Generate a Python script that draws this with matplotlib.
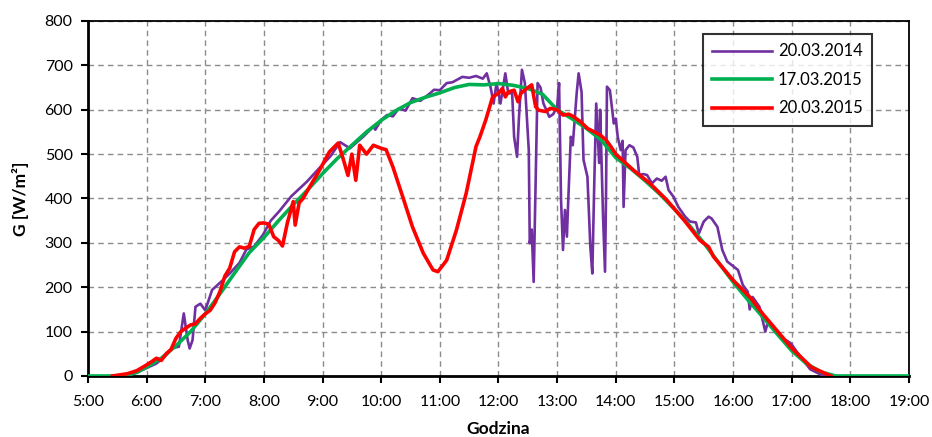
import numpy as np
import matplotlib
matplotlib.use("Agg")
import matplotlib.pyplot as plt

plt.rcParams['font.family'] = ['Lato', 'DejaVu Sans']

# 17.03.2015 - clear day (green)
t_1703 = ["5:00", "5:30", "5:40", "5:50", "6:00", "6:15", "6:30", "6:45", "7:00", "7:15",
          "7:30", "7:45", "8:00", "8:15", "8:30", "8:45", "9:00", "9:15", "9:30", "9:45",
          "10:00", "10:15", "10:30", "10:45", "11:00", "11:15", "11:30", "11:45", "12:00",
          "12:15", "12:30", "12:45", "13:00", "13:15", "13:30", "13:45", "14:00", "14:15",
          "14:30", "14:45", "15:00", "15:15", "15:30", "15:45", "16:00", "16:15", "16:30",
          "16:45", "17:00", "17:15", "17:30", "17:45", "19:00"]
g_1703 = [0, 0, 2, 8, 20, 40, 68, 100, 140, 185,
          232, 278, 312, 350, 386, 420, 456, 490, 520, 550,
          576, 598, 616, 628, 638, 650, 657, 656, 659,
          655, 648, 635, 600, 580, 558, 532, 492, 468, 440,
          410, 376, 340, 300, 256, 212, 172, 134,
          95, 57, 28, 9, 0, 0]

# 20.03.2015 (red)
t_2003_15 = ["5:25", "5:40", "5:50", "6:00", "6:05", "6:10", "6:15", "6:20", "6:25", "6:30",
             "6:35", "6:40", "6:45", "6:50", "6:55", "7:00", "7:05", "7:10", "7:15", "7:20",
             "7:25", "7:30", "7:35", "7:40", "7:45", "7:50", "7:55", "8:00", "8:05", "8:10",
             "8:15", "8:19", "8:24", "8:30", "8:32", "8:36", "8:40", "8:47", "8:57", "9:07",
             "9:16", "9:21", "9:26", "9:30", "9:34", "9:38", "9:45", "9:52", "10:00", "10:05",
             "10:12", "10:22", "10:32", "10:43", "10:53", "10:58", "11:07", "11:17", "11:27",
             "11:37", "11:41", "11:47", "11:54", "12:00", "12:04", "12:07", "12:10", "12:16",
             "12:20", "12:23", "12:29", "12:34", "12:38", "12:41", "12:48", "12:53", "13:00",
             "13:06", "13:12", "13:17", "13:24", "13:31", "13:38", "13:44", "13:50", "13:55",
             "14:00", "14:18", "14:35", "14:52", "15:10", "15:26", "15:35", "15:40", "16:00",
             "16:18", "16:30", "17:00", "17:20", "17:40"]
g_2003_15 = [0, 5, 12, 25, 32, 40, 35, 50, 60, 85,
             100, 108, 115, 118, 130, 140, 148, 165, 190, 225,
             243, 280, 291, 288, 292, 330, 344, 345, 342, 314,
             305, 293, 345, 393, 340, 390, 400, 427, 464, 505,
             525, 490, 452, 500, 441, 520, 500, 520, 513, 510,
             471, 404, 336, 277, 239, 235, 261, 329, 412,
             517, 539, 577, 629, 637, 648, 629, 640, 644,
             618, 637, 648, 656, 607, 599, 596, 603, 600,
             588, 590, 584, 573, 558, 550, 543, 532, 517,
             500, 464, 434, 397, 351, 306, 291, 269, 216,
             176, 141, 63, 20, 0]

# 20.03.2014 (purple)
t_2003_14 = ["5:40", "5:50", "6:00", "6:10", "6:20", "6:26", "6:33", "6:38", "6:42", "6:44",
             "6:47", "6:50", "6:55", "7:00", "7:07", "7:18", "7:25", "7:35", "7:42", "7:50",
             "7:59", "8:07", "8:16", "8:28", "8:44", "8:54", "9:08", "9:18", "9:28", "9:42",
             "9:52", "9:54", "10:00", "10:06", "10:12", "10:18", "10:25", "10:32", "10:40",
             "10:50", "10:54", "11:00", "11:07", "11:13", "11:23", "11:30", "11:37", "11:44",
             "11:48", "11:52", "11:55", "11:58", "12:02", "12:07", "12:10", "12:14", "12:16",
             "12:19", "12:21", "12:24", "12:27", "12:31", "12:32", "12:34", "12:36", "12:38",
             "12:40", "12:43", "12:46", "12:52", "12:56", "13:00", "13:02", "13:04", "13:06",
             "13:08", "13:10", "13:11", "13:14", "13:16", "13:20", "13:22", "13:25", "13:27",
             "13:31", "13:34", "13:36", "13:38", "13:40", "13:43", "13:44", "13:47", "13:49",
             "13:50", "13:51", "13:54", "13:58", "14:00", "14:02", "14:05", "14:07", "14:08",
             "14:10", "14:14", "14:18", "14:22", "14:24", "14:28", "14:32", "14:37", "14:42",
             "14:47", "14:51", "14:54", "14:59", "15:04", "15:11", "15:16", "15:22", "15:25",
             "15:30", "15:35", "15:38", "15:44", "15:49", "15:54", "16:05", "16:10", "16:15",
             "16:17", "16:20", "16:27", "16:33", "16:36", "16:48", "16:59", "17:09", "17:19",
             "17:30", "17:40"]
g_2003_14 = [0, 8, 18, 28, 47, 63, 66, 141, 81, 62,
             81, 156, 163, 148, 194, 216, 231, 255, 285, 292,
             318, 350, 372, 405, 438, 462, 495, 527, 513, 540,
             562, 555, 577, 588, 585, 603, 598, 626, 620,
             637, 645, 644, 660, 662, 674, 672, 676, 670,
             682, 650, 614, 660, 614, 682, 637, 637, 539,
             494, 584, 690, 660, 509, 299, 330, 212, 434,
             660, 650, 614, 584, 590, 607, 660, 397, 284,
             374, 314, 374, 539, 520, 637, 682, 640, 487,
             449, 291, 231, 434, 614, 480, 600, 359, 235,
             400, 652, 644, 569, 580, 539, 509, 530, 381,
             509, 520, 515, 494, 453, 455, 453, 434, 445,
             440, 449, 419, 404, 381, 359, 348, 346, 321,
             348, 359, 355, 336, 284, 258, 239, 205, 190,
             150, 178, 156, 100, 125, 89, 74, 43, 15,
             3, 0]


def to_hours(labels):
    out = []
    for s in labels:
        h, m = s.split(":")
        out.append(int(h) + int(m) / 60.0)
    return np.array(out)


fig = plt.figure(figsize=(9.32, 4.37), dpi=100)
ax = fig.add_axes([0.0944, 0.1396, 0.8809, 0.8124])

ax.plot(to_hours(t_2003_14), g_2003_14, color='#7030A0', lw=1.9, label='20.03.2014', zorder=3)
ax.plot(to_hours(t_1703), g_1703, color='#00B050', lw=2.6, label='17.03.2015', zorder=4)
ax.plot(to_hours(t_2003_15), g_2003_15, color='#FF0000', lw=2.6, label='20.03.2015', zorder=5)

hours = np.arange(5, 20)
ax.set_xlim(5, 19)
ax.set_ylim(0, 800)
ax.set_xticks(hours)
ax.set_xticklabels([f"{h}:00" for h in hours])
ax.set_yticks(np.arange(0, 801, 100))

ax.grid(True, color='#8c8c8c', linestyle=(0, (4, 3)), linewidth=1.0)
ax.set_axisbelow(True)
ax.tick_params(direction='out', length=5, width=1.5, labelsize=11.5, colors='black')
ax.tick_params(axis='x', pad=9)
ax.tick_params(axis='y', pad=6)
for side in ['left', 'bottom']:
    ax.spines[side].set_linewidth(2.0)
for side in ['right', 'top']:
    ax.spines[side].set_linewidth(1.3)

ax.set_xlabel('Godzina', fontsize=12.5, fontweight='bold', labelpad=8)
ax.set_ylabel('G [W/m²]', fontsize=12.5, fontweight='bold', labelpad=11)

leg = ax.legend(loc='upper right', bbox_to_anchor=(0.965, 0.986), fontsize=12,
                frameon=True, fancybox=False, edgecolor='black', handlelength=3.6,
                borderpad=0.55, labelspacing=0.75, handletextpad=0.35)
leg.get_frame().set_linewidth(1.5)

fig.savefig('out.png', dpi=100)
